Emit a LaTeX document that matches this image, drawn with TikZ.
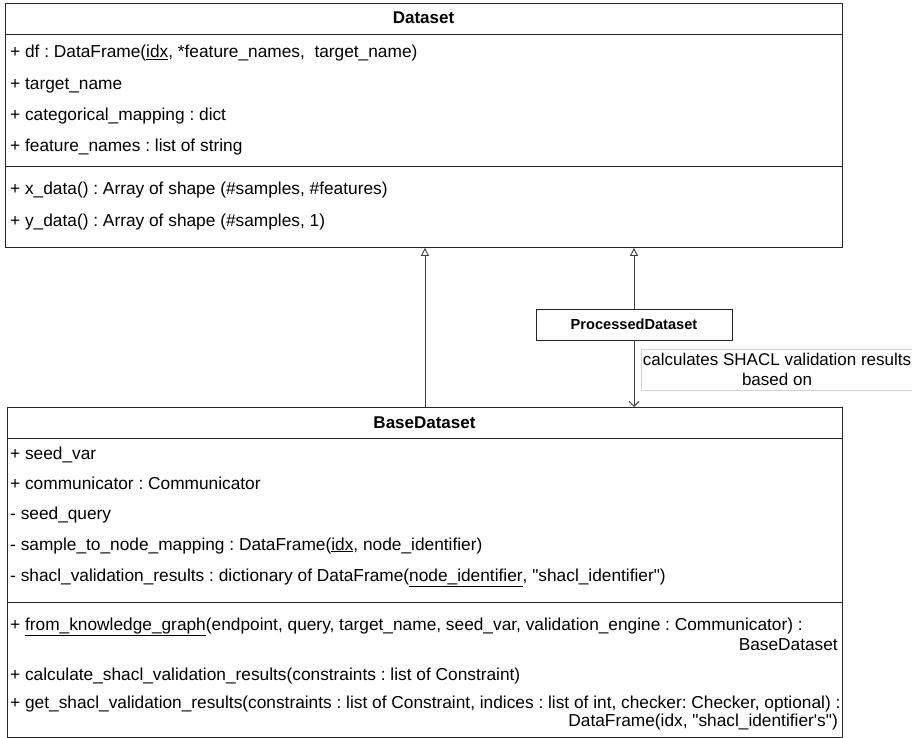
\documentclass[tikz,border=0pt]{standalone}
\usepackage{fontspec}
\setmainfont{Liberation Sans}[Ligatures=TeXOff]
\usetikzlibrary{arrows.meta}
\frenchspacing
\begin{document}
\begin{tikzpicture}[x=1pt,y=-1pt,
  classbox/.style={draw=black!85, line width=0.9pt, fill=white, rectangle, inner sep=0pt, anchor=north west},
  sepline/.style={draw=black!85, line width=0.9pt},
  ctitle/.style={anchor=base, inner sep=0pt, font=\bfseries\fontsize{17}{20}\selectfont},
  member/.style={anchor=base west, inner sep=0pt, font=\fontsize{17.3}{20}\selectfont},
  memberr/.style={anchor=base east, inner sep=0pt, font=\fontsize{17.3}{20}\selectfont},
  smallbox/.style={draw=black!85, line width=0.9pt, fill=white, minimum width=196pt, minimum height=31pt, inner sep=0pt, font=\bfseries\fontsize{14.6}{17}\selectfont},
  edgelabel/.style={draw=black!18, line width=0.6pt, fill=white, minimum width=272pt, minimum height=41pt, inner sep=0pt, align=center, font=\fontsize{17}{20}\selectfont},
  inherit/.style={draw=black!75, line width=0.9pt, -{Triangle[open, length=8pt, width=8pt]}},
  depend/.style={draw=black!75, line width=0.9pt, -{Straight Barb[length=5pt, width=10pt]}}
]
\useasboundingbox (0,0) rectangle (912,738);
\fill[white] (0,0) rectangle (912,738);

% ---- Dataset class ----
\node[classbox, minimum width=837pt, minimum height=244pt] (dataset) at (5,3) {};
\draw[sepline] (5,34) -- (842,34);
\draw[sepline] (5,166) -- (842,166);
\node[ctitle] (dstitle) at (423.5,24) {Dataset};
\node[member] (dsa1) at (10,58) {+ df : DataFrame(\underline{idx}, *feature\_names,\ \ target\_name)};
\node[member] (dsa2) at (10,90) {+ target\_name};
\node[member] (dsa3) at (10,121) {+ categorical\_mapping : dict};
\node[member] (dsa4) at (10,152) {+ feature\_names : list of string};
\node[member] (dsm1) at (10,194) {+ x\_data() : Array of shape (\#samples, \#features)};
\node[member] (dsm2) at (10,226) {+ y\_data() : Array of shape (\#samples, 1)};

% ---- BaseDataset class ----
\node[classbox, minimum width=835pt, minimum height=330pt] (base) at (7,407) {};
\draw[sepline] (7,438) -- (842,438);
\draw[sepline] (7,602) -- (842,602);
\node[ctitle] (bstitle) at (424.5,428) {BaseDataset};
\node[member] (bsa1) at (10,459) {+ seed\_var};
\node[member] (bsa2) at (10,489) {+ communicator : Communicator};
\node[member] (bsa3) at (10,519) {- seed\_query};
\node[member] (bsa4) at (10,550) {- sample\_to\_node\_mapping : DataFrame(\underline{idx}, node\_identifier)};
\node[member] (bsa5) at (10,581) {- shacl\_validation\_results : dictionary of DataFrame(\underline{node\_identifier}, "shacl\_identifier")};
\node[member] (bsm1) at (10,630) {+ \underline{from\_knowledge\_graph}(endpoint, query, target\_name, seed\_var, validation\_engine : Communicator) :};
\node[memberr] (bsm1b) at (838,650) {BaseDataset};
\node[member] (bsm2) at (10,680) {+ calculate\_shacl\_validation\_results(constraints : list of Constraint)};
\node[member] (bsm3) at (10,708) {+ get\_shacl\_validation\_results(constraints : list of Constraint, indices : list of int, checker: Checker, optional) :};
\node[memberr] (bsm3b) at (838,726) {DataFrame(idx, "shacl\_identifier's")};

% ---- ProcessedDataset ----
\node[smallbox] (proc) at (634,324.5) {ProcessedDataset};

% ---- connectors ----
\draw[inherit] (base.north) -- (base.north |- dataset.south);
\draw[inherit] (proc.north) -- (proc.north |- dataset.south);
\draw[depend] (proc.south) -- (proc.south |- base.north);
\node[edgelabel] (lab) at (777,369.5) {calculates SHACL validation results\\based on};
\end{tikzpicture}
\end{document}
